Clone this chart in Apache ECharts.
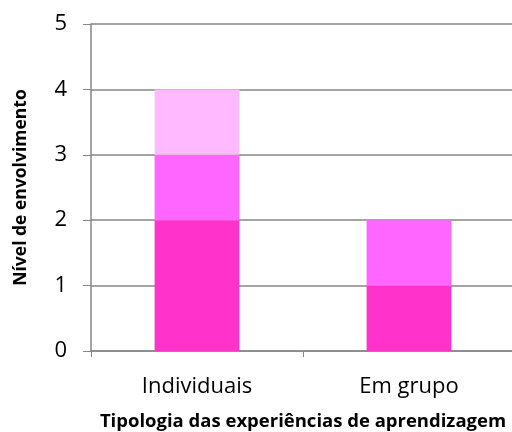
<!DOCTYPE html>
<html>
<head>
<meta charset="utf-8">
<script src="https://cdn.jsdelivr.net/npm/echarts@6/dist/echarts.min.js"></script>
<style>
  html, body { margin: 0; padding: 0; background: #ffffff; }
  #chart { width: 512px; height: 432px; }
</style>
</head>
<body>
<div id="chart"></div>
<script>
// Categories on the x axis
const categories = ['Individuais', 'Em grupo'];
// Stacked segments, bottom to top
const level1 = [2, 1];
const level2 = [1, 1];
const level3 = [1, 0];
// Y axis range
const yMin = 0;
const yMax = 5;
const yStep = 1;

const colors = ['#FF33CC', '#FF66FF', '#FFB9FF'];
const axisColor = '#868686';
const font = '"Open Sans", sans-serif';

const chart = echarts.init(document.getElementById('chart'));

function seg(data, color) {
  return {
    type: 'bar',
    stack: 'total',
    barWidth: '40%',
    data: data,
    itemStyle: { color: color },
    emphasis: { disabled: true }
  };
}

chart.setOption({
  animation: false,
  grid: { left: 91, right: -3, top: 24, bottom: 81, containLabel: false, outerBoundsMode: 'none' },
  xAxis: {
    type: 'category',
    data: categories,
    name: 'Tipologia das experiências de aprendizagem',
    nameLocation: 'middle',
    nameGap: 61,
    nameTextStyle: { fontFamily: font, fontWeight: 'bold', fontSize: 18.5, color: '#000' },
    axisLine: { lineStyle: { color: axisColor, width: 1.5 } },
    axisTick: { show: true, length: 6, alignWithLabel: false, lineStyle: { color: axisColor } },
    axisLabel: { fontFamily: font, fontSize: 22, color: '#000', margin: 25 }
  },
  yAxis: {
    type: 'value',
    min: yMin,
    max: yMax,
    interval: yStep,
    name: 'Nível de envolvimento',
    nameLocation: 'middle',
    nameGap: 61,
    nameTextStyle: { fontFamily: font, fontWeight: 'bold', fontSize: 17.5, color: '#000' },
    axisLine: { show: true, lineStyle: { color: axisColor, width: 1.5 } },
    axisTick: { show: true, inside: false, length: 8, lineStyle: { color: axisColor } },
    axisLabel: { fontFamily: font, fontSize: 22, color: '#000', margin: 24 },
    splitLine: { show: true, lineStyle: { color: axisColor, width: 1.5 } }
  },
  series: [seg(level1, colors[0]), seg(level2, colors[1]), seg(level3, colors[2])]
});
</script>
</body>
</html>
